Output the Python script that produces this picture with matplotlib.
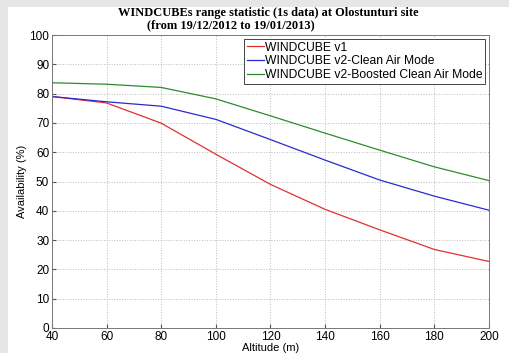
import matplotlib.pyplot as plt
from matplotlib.patches import Rectangle

altitude = [40, 60, 80, 100, 120, 140, 160, 180, 200]
v1 = [79.0, 76.8, 69.9, 59.3, 49.0, 40.5, 33.5, 26.8, 22.7]
v2_clean = [79.0, 77.2, 75.7, 71.2, 64.3, 57.3, 50.5, 45.0, 40.2]
v2_boosted = [83.7, 83.2, 82.1, 78.2, 72.4, 66.5, 60.7, 55.0, 50.3]
labels = ["WINDCUBE v1", "WINDCUBE v2-Clean Air Mode",
          "WINDCUBE v2-Boosted Clean Air Mode"]
title1 = "WINDCUBEs range statistic (1s data) at Olostunturi site"
title2 = "(from 19/12/2012 to 19/01/2013)"

plt.rcParams['font.family'] = ['Liberation Sans', 'DejaVu Sans']

fig = plt.figure(figsize=(5.09, 3.53), dpi=100)
fig.patch.set_facecolor('#e6e6e6')
fig.patches.append(Rectangle((8 / 509, 0), 1, 1 - 7 / 353, transform=fig.transFigure,
                             facecolor='white', edgecolor='none', zorder=-1))

ax = fig.add_axes([52 / 509, 25 / 353, 437 / 509, 293 / 353])
ax.plot(altitude, v1, color='#e03030', lw=0.9, label=labels[0])
ax.plot(altitude, v2_clean, color='#2a2ad0', lw=0.9, label=labels[1])
ax.plot(altitude, v2_boosted, color='#2e8b2e', lw=0.9, label=labels[2])

ax.set_xlim(40, 200)
ax.set_ylim(0, 100)
ax.set_xticks(range(40, 201, 20))
ax.set_yticks(range(0, 101, 10))
ax.tick_params(labelsize=8.5, direction='in', length=3, color='#555555', pad=2)
ax.grid(True, linestyle=':', color='#bbbbbb', lw=0.7)
for s in ax.spines.values():
    s.set_color('#777777')
    s.set_linewidth(0.7)

ax.set_xlabel("Altitude (m)", fontsize=8, labelpad=0)
ax.set_ylabel("Availability (%)", fontsize=8, labelpad=2)
fig.text(268 / 509, 1 - 13 / 353, title1, ha='center', va='center', fontsize=8.9,
         fontweight='bold', family='Liberation Serif')
fig.text(231 / 509, 1 - 25 / 353, title2, ha='center', va='center', fontsize=8.9,
         fontweight='bold', family='Liberation Serif')

leg = ax.legend(loc='upper right', fontsize=8.7, handlelength=1.4, handletextpad=0.1,
                borderpad=0.25, labelspacing=0.15, fancybox=False, framealpha=1,
                borderaxespad=0.3)
leg.get_frame().set_edgecolor('#444444')
leg.get_frame().set_linewidth(0.7)

fig.savefig("out.png", dpi=100, facecolor=fig.get_facecolor())
